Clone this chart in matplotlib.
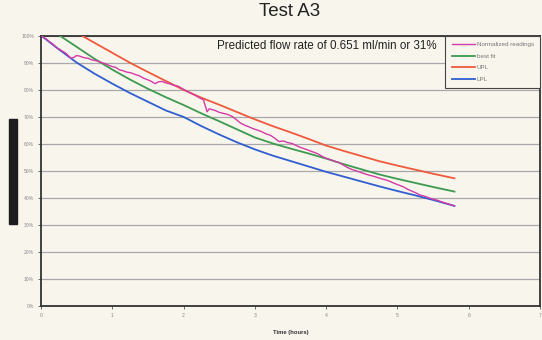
import matplotlib
matplotlib.use("Agg")
import matplotlib.pyplot as plt
from matplotlib.patches import Rectangle
from matplotlib.ticker import FuncFormatter

plt.rcParams["font.family"] = ["Liberation Sans", "DejaVu Sans"]

# Normalized readings (hours, % of initial)
read_t = [0.00, 0.04, 0.08, 0.12, 0.16, 0.20, 0.23, 0.26, 0.30, 0.34, 0.38, 0.42, 0.46, 0.50,
          0.54, 0.58, 0.62, 0.66, 0.70, 0.75, 0.80, 0.85, 0.90, 0.95, 1.00, 1.05, 1.10, 1.15,
          1.20, 1.26, 1.32, 1.38, 1.44, 1.50, 1.55, 1.60, 1.65, 1.70, 1.75, 1.80, 1.86, 1.92,
          1.98, 2.04, 2.10, 2.16, 2.22, 2.28, 2.31, 2.33, 2.36, 2.40, 2.45, 2.50, 2.56, 2.62,
          2.68, 2.74, 2.80, 2.86, 2.92, 2.98, 3.04, 3.10, 3.16, 3.22, 3.28, 3.34, 3.40, 3.46,
          3.52, 3.58, 3.64, 3.70, 3.76, 3.82, 3.88, 3.94, 4.00, 4.06, 4.12, 4.18, 4.24, 4.30,
          4.36, 4.42, 4.48, 4.54, 4.60, 4.66, 4.72, 4.78, 4.84, 4.90, 4.96, 5.02, 5.08, 5.14,
          5.20, 5.26, 5.32, 5.38, 5.44, 5.50, 5.56, 5.62, 5.68, 5.74, 5.80]
read_v = [100.0, 99.2, 98.6, 97.6, 97.0, 96.0, 95.2, 94.9, 94.2, 93.6, 92.6, 91.6, 91.9, 92.6,
          92.4, 92.0, 91.7, 91.6, 91.1, 90.8, 90.5, 90.0, 89.6, 89.0, 88.5, 88.2, 87.3, 87.0,
          86.5, 86.2, 85.6, 85.1, 84.2, 83.6, 83.0, 82.2, 82.9, 83.0, 82.5, 82.2, 81.6, 81.3,
          80.4, 79.5, 78.7, 77.9, 77.0, 76.2, 73.5, 71.8, 72.9, 72.6, 72.2, 71.6, 71.2, 70.8,
          70.1, 68.9, 67.6, 66.8, 66.2, 65.5, 65.0, 64.4, 63.6, 63.1, 62.0, 60.8, 61.0, 60.4,
          60.1, 59.3, 58.6, 58.1, 57.5, 56.9, 56.3, 55.4, 54.6, 54.1, 53.5, 53.0, 52.1, 51.2,
          50.5, 50.0, 49.4, 48.9, 48.4, 48.0, 47.5, 47.0, 46.6, 46.0, 45.3, 44.7, 44.1, 43.2,
          42.5, 41.8, 41.0, 40.6, 40.0, 39.5, 39.1, 38.5, 38.0, 37.5, 37.0]

# Best fit
fit_t = [0.26, 0.50, 0.75, 1.00, 1.25, 1.50, 1.75, 2.00, 2.25, 2.50, 2.75, 3.00, 3.25, 3.50,
         3.75, 4.00, 4.25, 4.50, 4.75, 5.00, 5.25, 5.50, 5.80]
fit_v = [100.0, 95.8, 91.4, 87.4, 83.7, 80.3, 77.2, 74.3, 71.2, 68.3, 65.3, 62.3, 60.1, 58.2,
         56.4, 54.5, 52.4, 50.5, 48.6, 47.0, 45.5, 44.0, 42.3]

# Upper prediction limit
upl_t = [0.57, 0.75, 1.00, 1.25, 1.50, 1.75, 2.00, 2.25, 2.50, 2.75, 3.00, 3.25, 3.50, 3.75,
         4.00, 4.25, 4.50, 4.75, 5.00, 5.25, 5.50, 5.80]
upl_v = [100.0, 97.3, 93.6, 89.9, 86.5, 83.2, 79.9, 77.0, 74.4, 71.7, 69.0, 66.5, 64.2, 61.8,
         59.3, 57.3, 55.4, 53.5, 51.9, 50.4, 48.9, 47.2]

# Lower prediction limit
lpl_t = [0.00, 0.25, 0.50, 0.75, 1.00, 1.25, 1.50, 1.75, 2.00, 2.25, 2.50, 2.75, 3.00, 3.25,
         3.50, 3.75, 4.00, 4.25, 4.50, 4.75, 5.00, 5.25, 5.50, 5.80]
lpl_v = [100.0, 94.9, 90.0, 85.9, 82.2, 78.7, 75.5, 72.3, 69.9, 66.5, 63.4, 60.5, 57.9, 55.6,
         53.6, 51.6, 49.6, 47.8, 46.0, 44.2, 42.5, 40.9, 39.2, 37.0]

series_labels = ["Normalized readings", "best fit", "UPL", "LPL"]
x_ticks = [0, 1, 2, 3, 4, 5, 6, 7]
y_ticks = [0, 10, 20, 30, 40, 50, 60, 70, 80, 90, 100]

bg = "#f8f5ec"
fig = plt.figure(figsize=(5.42, 3.40), dpi=100, facecolor=bg)
ax = fig.add_axes([41 / 542, 1 - 306 / 340, 499 / 542, (306 - 35.5) / 340], facecolor=bg)

ax.plot(read_t, read_v, color="#d43aa8", lw=1.0, label=series_labels[0], zorder=5)
ax.plot(fit_t, fit_v, color="#3e9a50", lw=1.3, label=series_labels[1], zorder=4)
ax.plot(upl_t, upl_v, color="#ef5a3c", lw=1.3, label=series_labels[2], zorder=4)
ax.plot(lpl_t, lpl_v, color="#2f5fd0", lw=1.3, label=series_labels[3], zorder=4)

ax.set_xlim(0, 7)
ax.set_ylim(0, 100)
ax.set_xticks(x_ticks)
ax.set_yticks(y_ticks)
ax.yaxis.set_major_formatter(FuncFormatter(lambda v, p: f"{v:.0f}%"))
ax.tick_params(axis="both", labelsize=3.6, labelcolor="#888888", color="#555555",
               length=2, width=0.6, pad=3)
ax.grid(axis="y", color="#a8a8a8", lw=0.9)
ax.set_axisbelow(True)
for s in ax.spines.values():
    s.set_color("#333333")
    s.set_linewidth(1.3)

ax.set_xlabel("Time (hours)", fontsize=4.2, fontweight="bold", color="#333333", labelpad=9)

fig.text(290 / 542, 1 - 12 / 340, "Test A3", ha="center", va="center", fontsize=13.5,
         color="#222222")
ax.text(327 / 542 * 542 / 499 - 41 / 499, 1 - (46 - 35.5) / 270.5,
        "Predicted flow rate of 0.651 ml/min or 31%", transform=ax.transAxes,
        ha="center", va="center", fontsize=8.4, color="#222222")

leg = ax.legend(loc="upper right", bbox_to_anchor=(1.0, 1.0), fontsize=4.5, frameon=True,
                fancybox=False, borderaxespad=0, handlelength=3.7, handletextpad=0.3,
                labelspacing=1.0, borderpad=1.0)
leg.get_frame().set_facecolor(bg)
leg.get_frame().set_edgecolor("#444444")
leg.get_frame().set_linewidth(0.8)
leg.get_frame().set_alpha(1.0)
for t in leg.get_texts():
    t.set_color("#777777")

# redacted axis caption block
fig.patches.append(Rectangle((9 / 542, 1 - 224 / 340), 8 / 542, 105 / 340,
                             transform=fig.transFigure, color="#1c1c1c"))

fig.savefig("out.png", dpi=100, facecolor=bg)
